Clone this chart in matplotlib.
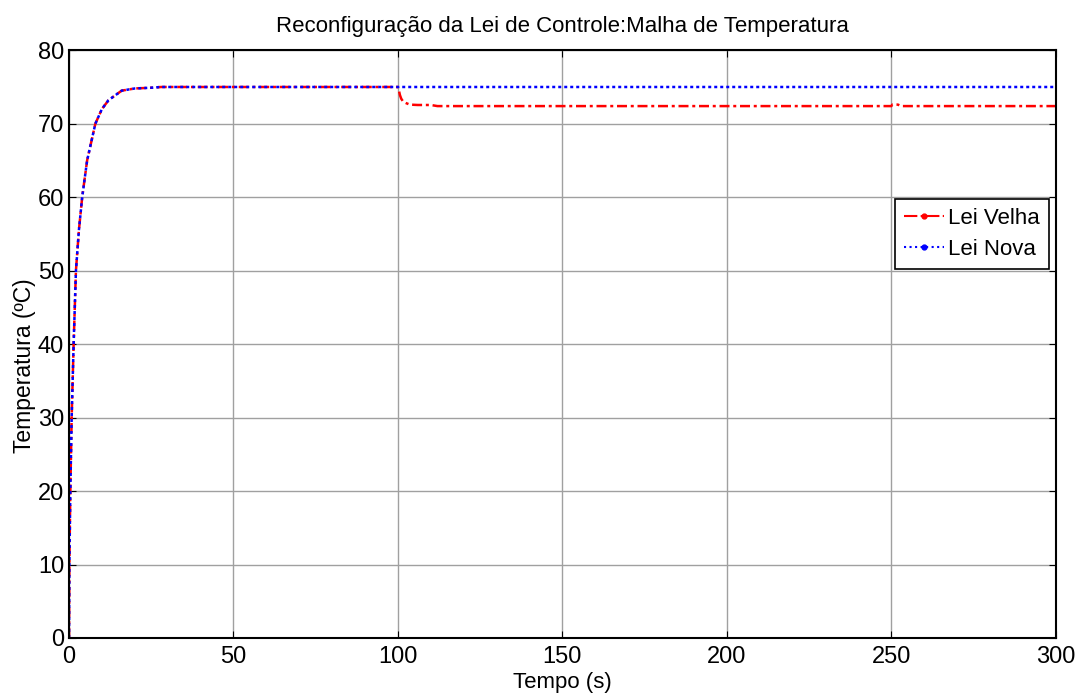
import numpy as np
import matplotlib.pyplot as plt
from matplotlib.lines import Line2D

# leituras do grafico (tempo em s, temperatura em C)
t_sub = [0, 0.1, 0.4, 0.8, 1.4, 2.1, 3.0, 4.0, 5.5, 8.0, 10, 12, 16, 20, 25, 28, 100]
T_sub = [0, 10, 20, 30, 40, 50, 55.5, 60, 65, 70, 72, 73.2, 74.5, 74.8, 74.9, 75, 75]

t_velha = [100.3, 100.6, 101, 101.6, 102.5, 103.6, 106, 110, 112, 250, 250.3, 252, 253, 300]
T_velha = [74.5, 73.9, 73.4, 73.0, 72.8, 72.6, 72.55, 72.55, 72.4, 72.4, 72.6, 72.6, 72.4, 72.4]

t_nova = [300]
T_nova = [75]

xticks = [0, 50, 100, 150, 200, 250, 300]
yticks = [0, 10, 20, 30, 40, 50, 60, 70, 80]

plt.rcParams['font.family'] = ['Liberation Sans', 'DejaVu Sans']

fig = plt.figure(figsize=(10.82, 6.98), dpi=100)
ax = fig.add_axes([0.0638, 0.086, 0.912, 0.842])

tv = t_sub + t_velha
Tv = T_sub + T_velha
tn = t_sub + t_nova
Tn = T_sub + T_nova

ax.plot(tv, Tv, color='red', linestyle=(0, (4, 1.5, 1.2, 1.5)), linewidth=1.8)
ax.plot(tn, Tn, color='blue', linestyle=(0, (1.2, 1.2)), linewidth=1.8)

ax.set_xlim(0, 300)
ax.set_ylim(0, 80)
ax.set_xticks(xticks)
ax.set_yticks(yticks)
ax.tick_params(direction='in', top=True, right=True, labelsize=17, length=5)
ax.tick_params(axis='x', pad=6)
ax.grid(True, color='#a0a0a0', linewidth=1)
for s in ax.spines.values():
    s.set_linewidth(1.5)

ax.set_title('Reconfiguração da Lei de Controle:Malha de Temperatura', fontsize=16, pad=13)
ax.set_xlabel('Tempo (s)', fontsize=16, labelpad=3)
ax.set_ylabel('Temperatura (ºC)', fontsize=16.5)
ax.yaxis.set_label_coords(-0.033, 0.463)

handles = [
    Line2D([], [], color='red', linestyle='-.', linewidth=1.5, marker='.', markersize=7),
    Line2D([], [], color='blue', linestyle=':', linewidth=1.5, marker='.', markersize=7),
]
leg = ax.legend(handles, ['Lei Velha', 'Lei Nova'], loc='upper right',
                bbox_to_anchor=(0.993, 0.747), fontsize=16, fancybox=False,
                framealpha=1, edgecolor='black', handlelength=1.8,
                borderpad=0.4, labelspacing=0.45, handletextpad=0.2, borderaxespad=0)
leg.get_frame().set_linewidth(1.2)

fig.savefig('out.png', dpi=100)
